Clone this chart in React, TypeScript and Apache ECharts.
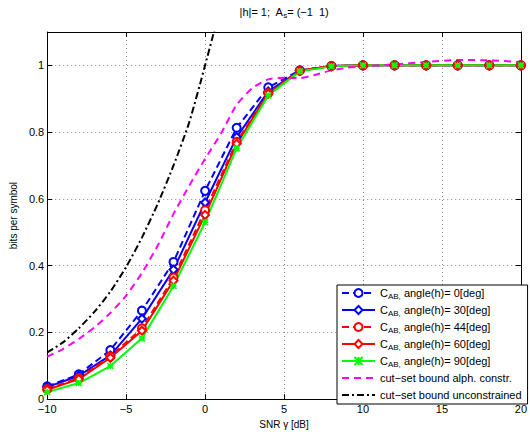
import React, { useEffect, useRef } from 'react';
import * as echarts from 'echarts';

const snr = [-10, -8, -6, -4, -2, 0, 2, 4, 6, 8, 10, 12, 14, 16, 18, 20];
const angle0 = [0.038, 0.074, 0.147, 0.265, 0.411, 0.624, 0.813, 0.934, 0.985, 0.998, 1, 1, 1, 1, 1, 1];
const angle30 = [0.036, 0.07, 0.131, 0.241, 0.388, 0.589, 0.785, 0.922, 0.984, 0.998, 1, 1, 1, 1, 1, 1];
const angle44 = [0.03, 0.063, 0.128, 0.212, 0.364, 0.566, 0.771, 0.917, 0.984, 0.998, 1, 1, 1, 1, 1, 1];
const angle60 = [0.028, 0.06, 0.124, 0.205, 0.355, 0.552, 0.765, 0.915, 0.984, 0.998, 1, 1, 1, 1, 1, 1];
const angle90 = [0.021, 0.048, 0.099, 0.182, 0.339, 0.53, 0.751, 0.91, 0.982, 0.997, 1, 1, 1, 1, 1, 1];

const alphX = [-10, -9, -8, -7, -6, -5, -4, -3, -2, -1, 0, 1, 2, 3, 4, 5, 6, 7, 8, 9, 10, 12, 14, 16, 18, 20];
const alphVals = [0.127, 0.15, 0.18, 0.215, 0.258, 0.31, 0.378, 0.46, 0.555, 0.64, 0.72, 0.795, 0.882, 0.932, 0.958, 0.963, 0.962, 0.972, 0.985, 0.993, 0.997, 1.003, 1.01, 1.016, 1.015, 1.01];

const uncX = [-10, -9, -8, -7, -6, -5, -4, -3, -2, -1, 0, 1];
const uncVals = [0.14, 0.17, 0.212, 0.262, 0.322, 0.396, 0.484, 0.585, 0.7, 0.83, 1.0, 1.18];

const xTicks = { min: -10, max: 20, interval: 5 };
const yTicks = { min: 0, max: 1.1, interval: 0.2 };

const names = [
  'C_AB, angle(h)= 0[deg]',
  'C_AB, angle(h)= 30[deg]',
  'C_AB, angle(h)= 44[deg]',
  'C_AB, angle(h)= 60[deg]',
  'C_AB, angle(h)= 90[deg]',
  'cut\u2212set bound alph. constr.',
  'cut\u2212set bound unconstrained',
];

const FONT = 'Liberation Sans, Arial, Helvetica, sans-serif';
const minus = (s: string) => s.replace(/-/g, '\u2212');

function pairs(xs: number[], ys: number[]) {
  return xs.map((x, i) => [x, ys[i]]);
}

export default function App() {
  const ref = useRef<HTMLDivElement>(null);
  useEffect(() => {
    if (!ref.current) return;
    const chart = echarts.init(ref.current, undefined, { renderer: 'svg' });
    const axisLine = { show: true, onZero: false, lineStyle: { color: '#000', width: 1 } };
    const split = { show: true, lineStyle: { color: '#8a8a8a', type: [1, 3] as any, width: 1 } };
    const tick = { show: true, inside: true, length: 5, lineStyle: { color: '#000' } };
    const label = { color: '#000', fontSize: 11, fontFamily: FONT };
    const mkLine = (
      name: string,
      data: number[][],
      color: string,
      type: any,
      symbol: string,
      symbolSize: number,
      extra: any = {}
    ) => ({
      name,
      type: 'line',
      data,
      xAxisIndex: 0,
      yAxisIndex: 0,
      symbol,
      symbolSize,
      showSymbol: symbol !== 'none',
      lineStyle: { color, width: 2, type },
      itemStyle: { color, borderColor: color, borderWidth: 1.5 },
      clip: true,
      ...extra,
    });
    const xPath = 'path://M0,0L10,10M10,0L0,10M5,0L5,10M0,5L10,5';
    chart.setOption({
      animation: false,
      backgroundColor: '#fff',
      textStyle: { fontFamily: FONT },
      grid: { left: 46, right: 9, top: 32, bottom: 27, containLabel: false },
      graphic: [
        {
          type: 'text',
          x: 284,
          y: 12,
          style: {
            text: '{t|\u007Ch\u007C= 1;  A}{s|s}{t|= (\u22121  1)}',
            align: 'center',
            verticalAlign: 'middle',
            fontFamily: FONT,
            rich: {
              t: { fontSize: 11, fontFamily: FONT, color: '#000', lineHeight: 14, verticalAlign: 'middle' },
              s: { fontSize: 8, fontFamily: FONT, color: '#000', lineHeight: 8, verticalAlign: 'bottom' },
            },
          },
        },
      ],
      xAxis: [
        {
          type: 'value',
          ...xTicks,
          position: 'bottom',
          name: 'SNR \u03B3 [dB]',
          nameLocation: 'middle',
          nameGap: 15,
          nameTextStyle: { color: '#000', fontSize: 10, fontFamily: FONT },
          axisLine,
          axisTick: tick,
          axisLabel: { ...label, margin: 4, formatter: (v: number) => minus(String(v)) },
          splitLine: split,
        },
        {
          type: 'value',
          ...xTicks,
          position: 'top',
          axisLine,
          axisTick: tick,
          axisLabel: { show: false },
          splitLine: { show: false },
        },
      ],
      yAxis: [
        {
          type: 'value',
          ...yTicks,
          position: 'left',
          name: 'bits per symbol',
          nameLocation: 'middle',
          nameGap: 27,
          nameTextStyle: { color: '#000', fontSize: 10, fontFamily: FONT },
          axisLine,
          axisTick: tick,
          axisLabel: {
            ...label,
            margin: 3,
            showMaxLabel: false,
            formatter: (v: number) => (v > 1.05 ? '' : String(Math.round(v * 10) / 10)),
          },
          splitLine: split,
        },
        {
          type: 'value',
          ...yTicks,
          position: 'right',
          axisLine,
          axisTick: tick,
          axisLabel: { show: false },
          splitLine: { show: false },
        },
      ],
      legend: {
        orient: 'vertical',
        left: 337,
        top: 285,
        padding: [1, 6, 2, 4],
        itemGap: 3,
        itemWidth: 33,
        itemHeight: 10,
        backgroundColor: '#fff',
        borderColor: '#000',
        borderWidth: 1,
        data: names.map((n, i) => (i >= 5 ? { name: n, itemStyle: { opacity: 0 } } : { name: n })),
        formatter: (n: string) => {
          if (n.startsWith('C_AB')) {
            return '{s|C}{b|AB,}{s|' + n.slice(5) + '}';
          }
          return '{s|' + n + '}';
        },
        textStyle: {
          color: '#000',
          fontSize: 11,
          fontFamily: FONT,
          lineHeight: 14,
          rich: {
            s: { fontSize: 11, fontFamily: FONT, color: '#000', lineHeight: 14, verticalAlign: 'middle' },
            b: { fontSize: 8, fontFamily: FONT, color: '#000', lineHeight: 8, verticalAlign: 'bottom' },
          },
        },
      },
      series: [
        mkLine(names[0], pairs(snr, angle0), '#0000ff', [7, 4], 'emptyCircle', 8),
        mkLine(names[1], pairs(snr, angle30), '#0000ff', 'solid', 'emptyDiamond', 8),
        mkLine(names[2], pairs(snr, angle44), '#ff0000', [7, 4], 'emptyCircle', 8),
        mkLine(names[3], pairs(snr, angle60), '#ff0000', 'solid', 'emptyDiamond', 8),
        mkLine(names[4], pairs(snr, angle90), '#00ff00', 'solid', xPath, 6),
        mkLine(names[5], pairs(alphX, alphVals), '#ff00ff', [7, 5], 'none', 0, { smooth: 0.2 }),
        mkLine(names[6], pairs(uncX, uncVals), '#000000', [7, 3, 2, 3], 'none', 0, { smooth: 0.2 }),
      ],
    });
    return () => chart.dispose();
  }, []);
  return (
    <div
      ref={ref}
      style={{ position: 'absolute', left: 0, top: 0, width: 530, height: 434, background: '#fff' }}
    />
  );
}
